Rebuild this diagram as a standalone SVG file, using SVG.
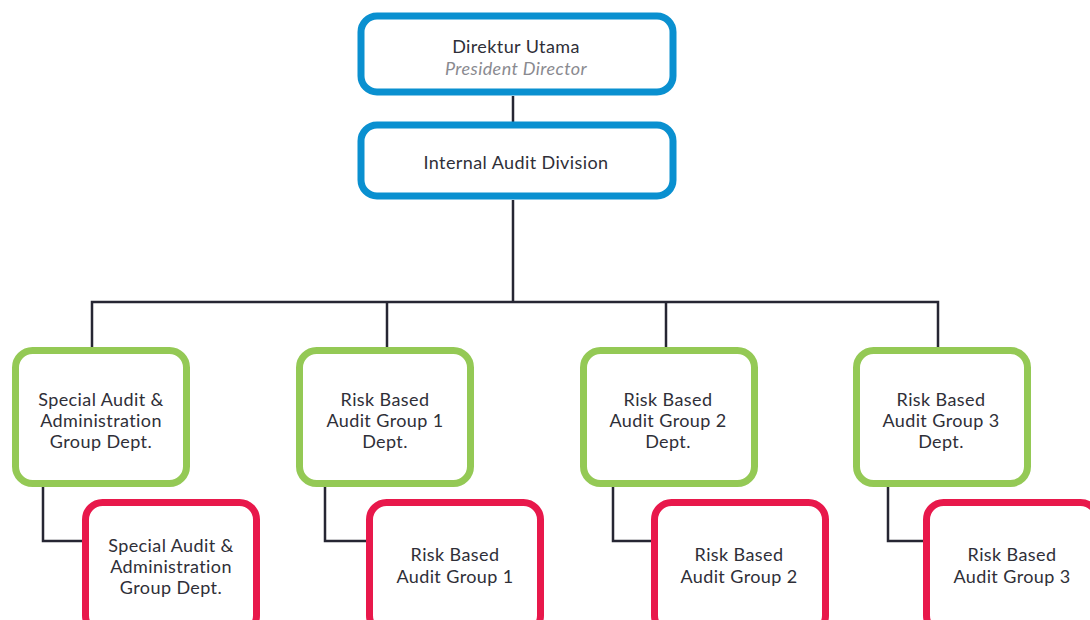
<svg xmlns="http://www.w3.org/2000/svg" width="1090" height="620" viewBox="0 0 1090 620">
  <style>
    .box { fill: #ffffff; stroke-width: 7; }
    .blue { stroke: #0a90d0; }
    .green { stroke: #94c955; }
    .red { stroke: #e8184b; }
    .conn { fill: none; stroke: #262633; stroke-width: 2.5; }
    text { font-family: Lato, "Noto Sans", sans-serif; font-size: 18px; letter-spacing: 0.4px; fill: #2f2f38; text-anchor: middle; }
    .sub { font-style: italic; fill: #8a8a90; }
  </style>
  <rect width="1090" height="620" fill="#ffffff"/>

  <!-- connectors -->
  <g id="connectors">
    <path class="conn" d="M513 96 V125"/>
    <path class="conn" d="M513 200 V302"/>
    <path class="conn" d="M92 347 V302 H938 V347"/>
    <path class="conn" d="M387 302 V347"/>
    <path class="conn" d="M666 302 V347"/>
    <path class="conn" d="M43 487 V541 H82"/>
    <path class="conn" d="M325 487 V541 H366"/>
    <path class="conn" d="M613 487 V541 H651"/>
    <path class="conn" d="M888 487 V541 H923"/>
  </g>

  <!-- top level -->
  <g id="president-director">
    <rect class="box blue" x="361" y="16" width="312" height="76" rx="16"/>
    <text x="516" y="53">Direktur Utama</text>
    <text class="sub" x="516" y="75">President Director</text>
  </g>
  <g id="internal-audit-division">
    <rect class="box blue" x="361" y="125" width="312" height="71" rx="16"/>
    <text x="516" y="169">Internal Audit Division</text>
  </g>

  <!-- departments -->
  <g id="dept-special-audit">
    <rect class="box green" x="15.5" y="350.5" width="171" height="133" rx="17"/>
    <text x="101" y="406">Special Audit &amp;</text>
    <text x="101" y="427">Administration</text>
    <text x="101" y="448">Group Dept.</text>
  </g>
  <g id="dept-rba-1">
    <rect class="box green" x="299.5" y="350.5" width="171" height="133" rx="17"/>
    <text x="385" y="406">Risk Based</text>
    <text x="385" y="427">Audit Group 1</text>
    <text x="385" y="448">Dept.</text>
  </g>
  <g id="dept-rba-2">
    <rect class="box green" x="583.5" y="350.5" width="171" height="133" rx="17"/>
    <text x="668" y="406">Risk Based</text>
    <text x="668" y="427">Audit Group 2</text>
    <text x="668" y="448">Dept.</text>
  </g>
  <g id="dept-rba-3">
    <rect class="box green" x="856.5" y="350.5" width="171" height="133" rx="17"/>
    <text x="941" y="406">Risk Based</text>
    <text x="941" y="427">Audit Group 3</text>
    <text x="941" y="448">Dept.</text>
  </g>

  <!-- groups -->
  <g id="group-special-audit">
    <rect class="box red" x="85.5" y="502.5" width="171" height="130" rx="17"/>
    <text x="171" y="552">Special Audit &amp;</text>
    <text x="171" y="573">Administration</text>
    <text x="171" y="594">Group Dept.</text>
  </g>
  <g id="group-rba-1">
    <rect class="box red" x="369.5" y="502.5" width="171" height="130" rx="17"/>
    <text x="455" y="561">Risk Based</text>
    <text x="455" y="583">Audit Group 1</text>
  </g>
  <g id="group-rba-2">
    <rect class="box red" x="654.5" y="502.5" width="171" height="130" rx="17"/>
    <text x="739" y="561">Risk Based</text>
    <text x="739" y="583">Audit Group 2</text>
  </g>
  <g id="group-rba-3">
    <rect class="box red" x="926.5" y="502.5" width="171" height="130" rx="17"/>
    <text x="1012" y="561">Risk Based</text>
    <text x="1012" y="583">Audit Group 3</text>
  </g>
</svg>
